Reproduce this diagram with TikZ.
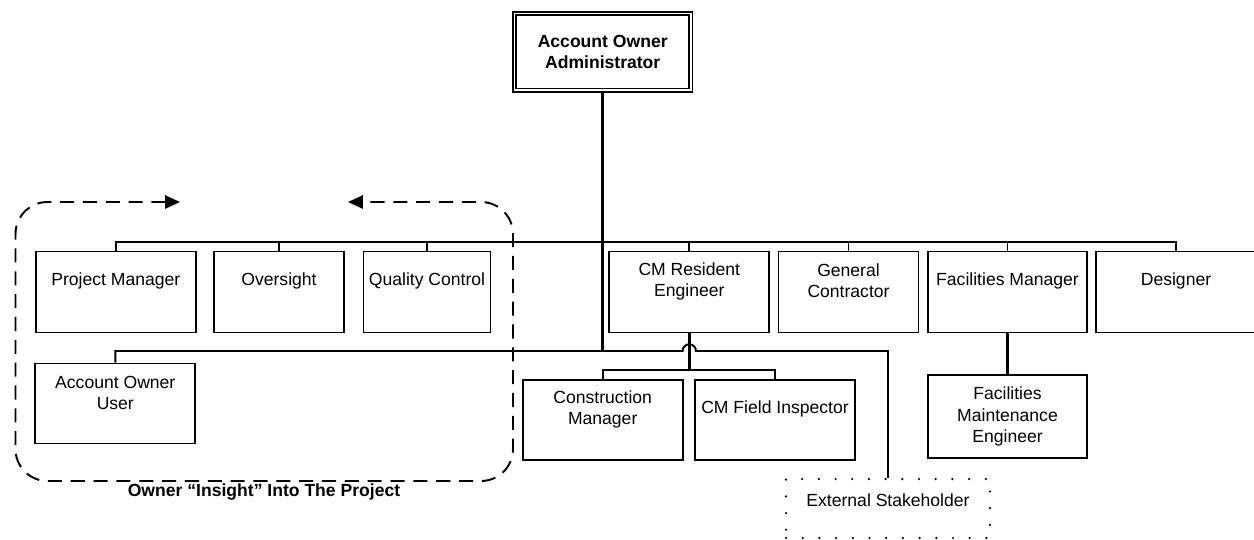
\documentclass[tikz,border=0pt]{standalone}
\usepackage{fontspec}
\setmainfont{Liberation Sans}
\usetikzlibrary{arrows.meta}
\tikzset{
  box/.style={draw, line width=1.1pt, minimum height=1.6cm, minimum width=#1, inner sep=0pt},
  box/.default=3.2cm,
  say/.style={label={[align=center, yshift=0.22cm]center:#1}},
  link/.style={line width=1.1pt},
  trunk/.style={line width=1.5pt},
}
\begin{document}
\begin{tikzpicture}[x=0.02cm, y=-0.02cm, font=\fontsize{10}{12}\selectfont]
\useasboundingbox (0,0) rectangle (1254,539);
\node[draw, double, line width=0.9pt, double distance=1pt, minimum width=3.53cm, minimum height=1.53cm, align=center, font=\fontsize{10}{12}\selectfont\bfseries] (admin) at (602.7,51.8) {Account Owner\\Administrator};
%%%%%%%%%%%%%
\node[box, minimum height=1.62cm, say={Project Manager}] (pm) at (115.8,292) {};
\node[box=2.6cm, minimum height=1.62cm, say={Oversight}] (ov) at (279,292) {};
\node[box=2.54cm, minimum height=1.62cm, say={Quality Control}] (qc) at (427,292) {};
\node[box, minimum height=1.62cm, say={CM Resident\\Engineer}] (cmre) at (689.3,292) {};
\node[box=2.8cm, minimum height=1.62cm, say={General\\Contractor}] (gc) at (848.5,292) {};
\node[box=3.18cm, minimum height=1.62cm, say={Facilities Manager}] (fm) at (1007.5,292) {};
\node[box, minimum height=1.62cm, say={Designer}] (des) at (1176,292) {};
%%%%%%%%%%%%%
\node[box, say={Account Owner\\User}] (aou) at (115.3,403.5) {};
\node[box, say={Construction\\Manager}] (cm) at (602.7,420) {};
\node[box, say={CM Field Inspector}] (cfi) at (775,420) {};
\node[box=3.18cm, minimum height=1.66cm, align=center] (fme) at (1007.5,416.5) {Facilities\\Maintenance\\Engineer};
\node[box=4.08cm, minimum height=1.18cm, line width=1.4pt, line cap=round, dash pattern=on 0pt off 0.334cm, label={[yshift=0.17cm]center:External Stakeholder}] (ext) at (888,508.5) {};
%%%%%%%%%%%%%
\coordinate (t) at (0,242);
\coordinate (b2) at (0,351);
\coordinate (b3) at (0,370);
\coordinate (jump) at (cmre.south |- b2);
\draw[link] (pm.north) -- (pm.north |- t) -- (des.north |- t) -- (des.north);
\foreach \n in {ov,qc,cmre,gc,fm} \draw[link] (\n.north) -- (\n.north |- t);
\draw[trunk] (admin.south) -- (admin.south |- b2);
\draw[link] (aou.north) -- (aou.north |- b2) -- ([xshift=-0.134cm]jump) arc[start angle=180, end angle=0, radius=0.134cm] -- (ext.north |- b2) -- (ext.north);
\draw[trunk] (cmre.south) -- (cmre.south |- b3);
\draw[link] (cm.north) -- (cm.north |- b3) -- (cfi.north |- b3) -- (cfi.north);
\draw[trunk] (fm) -- (fme);
%%%%%%%%%%%%%
\draw[link, dash pattern=on 8pt off 5pt, {Triangle[length=8.5pt,width=7.5pt]}-{Triangle[length=8.5pt,width=7.5pt]}, rounded corners=0.64cm] (180,202) -- (15.5,202) -- (15.5,481) -- (513,481) -- (513,202) -- (348,202);
\node[font=\fontsize{10}{12}\selectfont\bfseries] (insight) at (264,492) {Owner “Insight” Into The Project};
\end{tikzpicture}
\end{document}
